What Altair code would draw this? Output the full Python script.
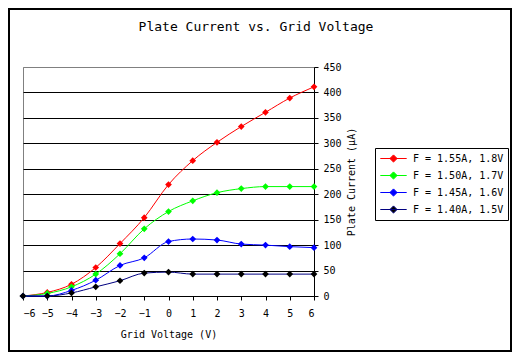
import altair as alt
import pandas as pd

grid_voltage = [-6, -5, -4, -3, -2, -1, 0, 1, 2, 3, 4, 5, 6]
series_labels = ["F = 1.55A, 1.8V", "F = 1.50A, 1.7V", "F = 1.45A, 1.6V", "F = 1.40A, 1.5V"]
current_155 = [0, 7, 23, 56, 103, 154, 219, 266, 302, 333, 361, 389, 411]
current_150 = [0, 5, 18, 43, 83, 132, 166, 187, 203, 211, 215, 215, 215]
current_145 = [0, 0, 11, 31, 60, 75, 107, 112, 110, 102, 100, 97, 95]
current_140 = [0, 0, 6, 18, 30, 45, 47, 43, 43, 43, 43, 43, 43]
line_colors = ["#FF0000", "#00FF00", "#0000FF", "#000080"]
marker_colors = ["#FF0000", "#00FF00", "#0000FF", "#000000"]
chart_title = "Plate Current vs. Grid Voltage"

rows = []
for lab, vals in zip(series_labels, [current_155, current_150, current_145, current_140]):
    for v, c in zip(grid_voltage, vals):
        rows.append({"series": lab, "V": v, "I": c})
df = pd.DataFrame(rows)

FONT = "DejaVu Sans Mono"

x = alt.X("V:Q", scale=alt.Scale(domain=[-6, 6], nice=False),
          axis=alt.Axis(title="Grid Voltage (V)", values=grid_voltage, grid=False,
                        tickSize=4, labelPadding=8, titlePadding=11))
y = alt.Y("I:Q", scale=alt.Scale(domain=[0, 450], nice=False),
          axis=alt.Axis(title="Plate Current (µA)", orient="right", values=list(range(0, 451, 50)),
                        grid=True,
                        gridColor=alt.condition("datum.value == 450", alt.value("#808080"), alt.value("#000000")),
                        tickSize=4, labelPadding=5, titlePadding=5, titleAngle=270,
                        titleBaseline="top"))

legend_symbol = "M-2.2,0L2.2,0M0,-0.6L0.6,0L0,0.6L-0.6,0Z"

lines = alt.Chart(df).mark_line(interpolate="monotone", strokeWidth=1, clip=False).encode(
    x=x, y=y,
    color=alt.Color("series:N", scale=alt.Scale(domain=series_labels, range=line_colors),
                    sort=series_labels, legend=alt.Legend(title=None)),
    order="V:Q",
)
points = alt.Chart(df).mark_point(shape="diamond", filled=True, size=45, opacity=1, clip=False).encode(
    x=x, y=y,
    fill=alt.Fill("series:N", scale=alt.Scale(domain=series_labels, range=marker_colors),
                  sort=series_labels, legend=alt.Legend(title=None)),
)
frame = alt.Chart(df).mark_rect(fill=None, stroke="black", strokeWidth=2, clip=False).encode(
    x=alt.value(-14), x2=alt.value(488), y=alt.value(-58), y2=alt.value(284)
)
title = alt.Chart(pd.DataFrame({"t": [chart_title]})).mark_text(
    font=FONT, fontSize=13, color="black", align="center", baseline="middle", clip=False
).encode(text="t:N", x=alt.value(233), y=alt.value(-40))

chart = alt.layer(frame, lines, points, title).properties(
    width=291, height=229,
    autosize=alt.AutoSizeParams(type="none"),
    padding={"left": 15, "top": 59, "right": 198, "bottom": 56},
).configure_view(stroke="#808080", strokeWidth=1).configure_axis(
    labelFont=FONT, titleFont=FONT, labelFontSize=10, titleFontSize=10, titleFontWeight="normal",
    labelColor="black", titleColor="black", domainColor="black", tickColor="black",
    gridWidth=1, domainWidth=1,
).configure_legend(
    orient="none", legendX=352, legendY=81,
    symbolType=legend_symbol, symbolSize=144, symbolStrokeWidth=1, symbolOffset=8,
    labelOffset=13, strokeColor="black", fillColor="white", padding=4,
    rowPadding=4, labelFontSize=10, labelFont=FONT, labelColor="black",
)

chart.save("out.html", embed_options={"renderer": "svg", "actions": False})
